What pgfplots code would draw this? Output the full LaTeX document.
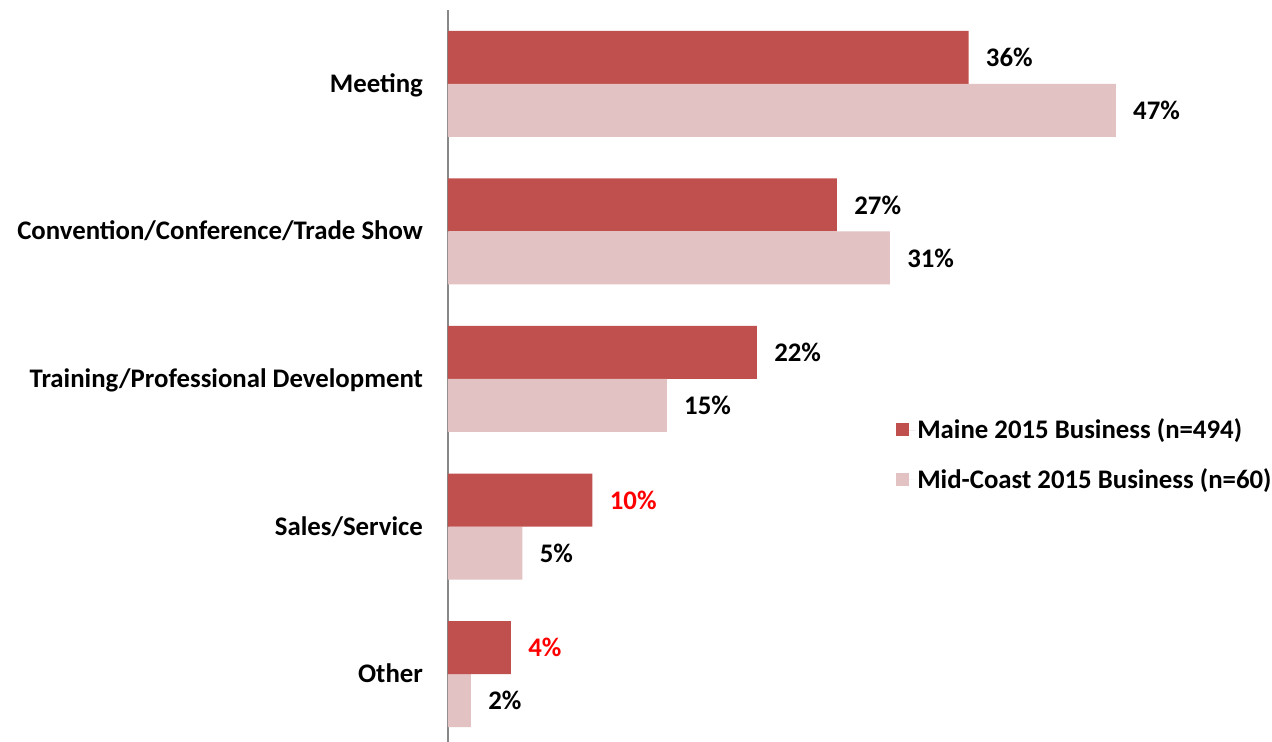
\documentclass[border=0pt]{standalone}
\usepackage{pgfplots}
\pgfplotsset{compat=1.18}
\usepackage{fontspec}
\setmainfont{Carlito}
\definecolor{maine}{HTML}{C0504D}
\definecolor{midcoast}{HTML}{E2C2C3}
\definecolor{axgray}{HTML}{888888}
\begin{document}
\begin{tikzpicture}
\path[use as bounding box] (-224pt,3pt) rectangle (412pt,374pt);
\begin{axis}[
  scale only axis,
  width=357.5pt, height=369pt,
  xbar, bar width=26.5pt,
  xmin=0, xmax=50,
  ymin=-0.5, ymax=4.5,
  axis x line=none,
  axis y line*=left,
  axis line style={draw=axgray, line width=1pt},
  ytick={0,1,2,3,4},
  yticklabels={Other, Sales/Service, Training/Professional Development, Convention/Conference/Trade Show, Meeting},
  major tick length=0pt,
  ytick style={draw=none},
  yticklabel style={font=\fontsize{13.4}{16}\selectfont\bfseries, anchor=base east, xshift=-9pt, yshift=-4.3pt},
  /pgf/number format/assume math mode=true,
  nodes near coords={\pgfmathprintnumber[fixed,precision=0,assume math mode=true]{\pgfplotspointmeta}\%},
  nodes near coords style={font=\fontsize{13.4}{16}\selectfont\bfseries, anchor=west, inner sep=0pt, xshift=8.5pt},
  point meta=x,
  legend style={draw=none, fill=none, at={(0.618,0.397)}, anchor=west,
    font=\fontsize{13.4}{16}\selectfont\bfseries, row sep=11.5pt,
    nodes={inner sep=1pt}},
  legend cell align=left,
  legend image code/.code={\fill[#1] (0pt,-3pt) rectangle (6.5pt,3.5pt); \path (0pt,0pt) -- (9.5pt,0pt);},
]
\addplot[fill=maine, draw=none, bar shift=13.25pt] coordinates {(27.2,3) (36.4,4) (21.6,2)};
\addplot[fill=midcoast, draw=none, bar shift=-13.25pt] coordinates {(1.6,0) (5.2,1) (15.3,2) (30.9,3) (46.7,4)};
\addplot[fill=maine, draw=none, bar shift=13.25pt, forget plot, nodes near coords style={text=red}] coordinates {(4.4,0) (10.1,1)};
\legend{Maine 2015 Business (n=494), Mid-Coast 2015 Business (n=60)}
\end{axis}
\end{tikzpicture}
\end{document}
